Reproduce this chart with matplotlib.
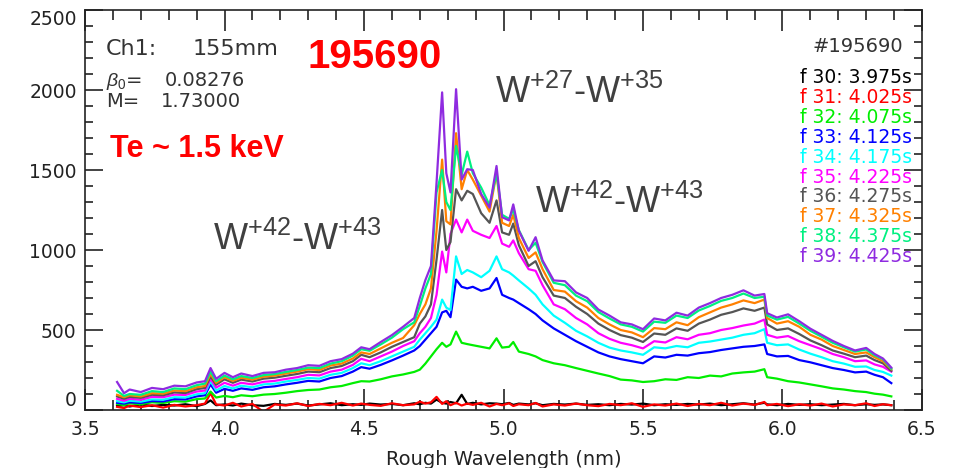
import matplotlib
matplotlib.use("Agg")
import matplotlib.pyplot as plt
from matplotlib.ticker import MultipleLocator

# ---------------- data ----------------
wavelength = [3.615, 3.64, 3.66, 3.70, 3.74, 3.78, 3.82, 3.86, 3.90, 3.93,
              3.95, 3.97, 4.00, 4.03, 4.06, 4.10, 4.14, 4.18, 4.22, 4.26,
              4.30, 4.34, 4.38, 4.42, 4.46, 4.49, 4.52, 4.56, 4.60, 4.64,
              4.68, 4.70, 4.72, 4.74, 4.76, 4.78, 4.795, 4.81, 4.83, 4.85,
              4.87, 4.89, 4.92, 4.95, 4.975, 4.995, 5.02, 5.035, 5.055, 5.09,
              5.115, 5.14, 5.18, 5.22, 5.26, 5.30, 5.34, 5.38, 5.42, 5.46,
              5.50, 5.54, 5.58, 5.62, 5.66, 5.70, 5.74, 5.78, 5.82, 5.86,
              5.90, 5.935, 5.945, 5.98, 6.02, 6.06, 6.10, 6.14, 6.18, 6.22,
              6.26, 6.30, 6.33, 6.36, 6.39]

f30 = [25, 30, 22, 35, 25, 32, 28, 36, 24, 38, 60, 30, 35, 28, 40, 30, 26, 38, 32, 40,
       28, 35, 42, 30, 36, 32, 40, 34, 38, 30, 42, 36, 45, 40, 65, 45, 40, 50, 42, 95,
       38, 45, 35, 42, 40, 36, 44, 32, 40, 35, 42, 30, 38, 34, 40, 32, 36, 30, 38, 34,
       40, 30, 36, 32, 38, 34, 40, 30, 36, 42, 34, 45, 35, 30, 38, 32, 36, 30, 34, 38,
       30, 36, 32, 35, 30]

f31 = [20, 12, 28, 18, 30, 15, 32, 22, 30, 40, 105, 35, 28, 45, 22, 38, -12, 35, 28, 42,
       25, 38, 30, 45, 28, 40, 32, 26, 42, 30, 35, 52, 40, 48, 82, 38, 55, 30, 45, 28,
       40, 32, 45, 22, 38, 30, 42, 25, 36, 30, 44, 22, 35, 28, 40, 30, 24, 38, 30, 42,
       20, 35, 28, 40, 25, 38, 30, 45, 28, 40, 32, 50, 30, 38, 24, 36, 28, 40, 22, 35,
       30, 42, 25, 36, 30]

f32 = [38, 30, 42, 36, 48, 44, 55, 52, 68, 72, 115, 78, 88, 80, 92, 86, 96, 100, 108, 118,
       125, 128, 142, 150, 168, 180, 178, 192, 210, 222, 238, 252, 290, 335, 380, 420, 395, 410, 490, 420,
       412, 405, 395, 385, 448, 390, 395, 425, 365, 350, 335, 312, 292, 280, 262, 245, 228, 212, 190, 185,
       175, 180, 192, 188, 205, 200, 215, 210, 228, 235, 240, 255, 205, 196, 180, 172, 160, 148, 135, 128,
       118, 112, 102, 96, 85]

f33 = [45, 40, 48, 44, 56, 54, 68, 66, 85, 92, 160, 108, 132, 120, 135, 126, 142, 148, 160, 170,
       182, 178, 200, 212, 240, 268, 258, 282, 310, 340, 372, 400, 440, 480, 520, 610, 620, 580, 815, 770,
       760, 770, 745, 760, 825, 720, 700, 690, 668, 630, 600, 560, 510, 470, 430, 395, 360, 335, 318, 305,
       292, 335, 328, 345, 340, 355, 362, 375, 385, 395, 400, 410, 350, 335, 338, 312, 298, 280, 262, 250,
       235, 240, 220, 205, 168]

f34 = [55, 48, 58, 52, 66, 64, 80, 78, 98, 105, 180, 122, 150, 135, 152, 142, 160, 165, 178, 188,
       200, 196, 220, 232, 262, 292, 280, 305, 335, 365, 395, 440, 480, 520, 565, 690, 640, 625, 960, 850,
       875, 860, 830, 870, 960, 880, 860, 840, 810, 760, 720, 660, 590, 545, 495, 460, 420, 390, 372, 360,
       345, 392, 385, 400, 392, 420, 428, 440, 452, 470, 480, 505, 420, 405, 410, 378, 352, 330, 305, 290,
       270, 272, 250, 238, 215]

f35 = [70, 58, 70, 64, 82, 80, 96, 94, 115, 122, 195, 140, 170, 152, 170, 160, 176, 182, 194, 205,
       220, 216, 240, 252, 282, 320, 305, 335, 365, 400, 430, 480, 520, 575, 720, 990, 860, 1100, 1190, 1110,
       1190, 1120, 1095, 1075, 1150, 1040, 1020, 1060, 980, 880, 870, 780, 660, 630, 575, 535, 480, 445, 420, 405,
       385, 430, 422, 455, 442, 470, 480, 500, 512, 528, 540, 565, 470, 452, 462, 430, 405, 380, 350, 330,
       305, 310, 285, 270, 240]

f36 = [85, 70, 82, 76, 95, 92, 110, 106, 130, 138, 210, 158, 192, 170, 190, 178, 196, 202, 214, 225,
       240, 236, 262, 275, 305, 345, 330, 360, 395, 425, 455, 540, 585, 660, 940, 1250, 1000, 1050, 1380, 1310,
       1370, 1350, 1230, 1170, 1310, 1110, 1095, 1165, 1030, 900, 930, 830, 715, 700, 645, 600, 540, 500, 468, 452,
       425, 478, 470, 510, 495, 540, 565, 595, 612, 635, 620, 640, 535, 500, 510, 475, 435, 405, 372, 352,
       330, 340, 312, 292, 245]

f37 = [95, 80, 92, 85, 105, 102, 122, 118, 142, 150, 225, 170, 205, 182, 202, 190, 208, 215, 228, 240,
       255, 250, 278, 290, 322, 360, 350, 385, 420, 450, 530, 600, 660, 760, 1120, 1565, 1180, 1160, 1730, 1380,
       1500, 1440, 1340, 1240, 1480, 1170, 1150, 1220, 1075, 950, 985, 880, 750, 740, 680, 640, 575, 535, 500, 485,
       455, 512, 505, 548, 530, 580, 610, 640, 660, 685, 668, 690, 575, 540, 555, 520, 470, 440, 400, 375,
       350, 360, 330, 305, 255]

f38 = [120, 88, 100, 95, 118, 112, 135, 130, 155, 165, 240, 180, 215, 192, 212, 200, 218, 225, 238, 250,
       265, 262, 290, 305, 340, 380, 370, 410, 452, 505, 548, 650, 760, 850, 1360, 1500, 1300, 1250, 1650, 1470,
       1615, 1480, 1390, 1280, 1480, 1220, 1195, 1250, 1125, 1000, 1045, 925, 795, 780, 715, 680, 612, 572, 535, 520,
       490, 552, 545, 590, 575, 622, 650, 682, 700, 728, 700, 708, 590, 565, 582, 540, 495, 458, 420, 392,
       365, 378, 342, 318, 258]

f39 = [175, 105, 128, 112, 138, 130, 152, 148, 172, 180, 262, 195, 232, 205, 228, 212, 232, 236, 252, 262,
       280, 276, 305, 318, 352, 392, 380, 425, 468, 520, 575, 700, 812, 900, 1420, 1985, 1480, 1360, 2005, 1440,
       1505, 1500, 1350, 1265, 1525, 1205, 1185, 1285, 1120, 995, 1080, 935, 810, 805, 735, 700, 628, 590, 548, 535,
       505, 572, 560, 608, 590, 640, 668, 700, 720, 748, 715, 725, 605, 578, 598, 555, 508, 470, 432, 400,
       372, 388, 350, 322, 265]

frame_labels = ["f 30: 3.975s", "f 31: 4.025s", "f 32: 4.075s", "f 33: 4.125s",
                "f 34: 4.175s", "f 35: 4.225s", "f 36: 4.275s", "f 37: 4.325s",
                "f 38: 4.375s", "f 39: 4.425s"]
series = [f30, f31, f32, f33, f34, f35, f36, f37, f38, f39]
colors = ["#000000", "#ff0000", "#00ee00", "#0000ff", "#00ffff",
          "#ff00ff", "#555555", "#ff8000", "#00f080", "#8f2be0"]

x_ticks = [3.5, 4.0, 4.5, 5.0, 5.5, 6.0, 6.5]
x_tick_labels = ["3.5", "4.0", "4.5", "5.0", "5.5", "6.0", "6.5"]
y_ticks = [0, 500, 1000, 1500, 2000, 2500]
y_tick_labels = ["0", "500", "1000", "1500", "2000", "2500"]

# ---------------- figure ----------------
plt.rcParams["mathtext.fontset"] = "custom"
plt.rcParams["mathtext.rm"] = "Liberation Sans"
plt.rcParams["mathtext.it"] = "Liberation Sans:italic"
plt.rcParams["mathtext.bf"] = "Liberation Sans:bold"

W, H = 956, 468
fig = plt.figure(figsize=(W / 100, H / 100), dpi=100)
ax = fig.add_axes([85 / W, 1 - 410 / H, (922 - 85) / W, 400 / H])

for y, c in zip(series, colors):
    ax.plot(wavelength, y, color=c, lw=1.6, solid_joinstyle="round")

ax.set_xlim(3.5, 6.5)
ax.set_ylim(0, 2500)
ax.set_xticks(x_ticks, x_tick_labels)
ax.set_yticks(y_ticks, y_tick_labels)
ax.xaxis.set_minor_locator(MultipleLocator(0.1))
ax.yaxis.set_minor_locator(MultipleLocator(100))
ax.tick_params(which="both", direction="in", top=True, right=True,
               colors="#222222", width=1.2, labelsize=13.5)
ax.tick_params(axis="x", which="major", length=15, pad=7)
ax.tick_params(axis="x", which="minor", length=7)
ax.tick_params(axis="y", which="major", length=13, pad=6)
ax.tick_params(axis="y", which="minor", length=6)
for sp in ax.spines.values():
    sp.set_linewidth(1.2)
    sp.set_color("#222222")
for lbl in ax.get_yticklabels():
    if lbl.get_text() == "2500":
        lbl.set_va("top")
    elif lbl.get_text() == "0":
        lbl.set_va("bottom")
ax.set_xlabel("Rough Wavelength (nm)", fontsize=14, labelpad=8, color="#222222")


def ftext(x, y, s, **kw):
    kw.setdefault("va", "baseline")
    return fig.text(x / W, 1 - y / H, s, **kw)


dark = "#333333"
ftext(106, 55, "Ch1:", fontsize=16, color=dark)
ftext(193, 55, "155mm", fontsize=16, color=dark)
ftext(106, 86, r"$\beta_0$=", fontsize=14, color=dark)
ftext(165, 86, "0.08276", fontsize=14, color=dark)
ftext(106, 107, "M=", fontsize=14, color=dark)
ftext(161, 107, "1.73000", fontsize=14, color=dark)
ftext(903, 52, "#195690", fontsize=14, color=dark, ha="right")

ftext(307, 68, "195690", fontsize=29, fontweight="bold", color="#ff0000",
      family="Liberation Sans")
ftext(110, 157, "Te ~ 1.5 keV", fontsize=22, fontweight="bold", color="#ff0000",
      family="Liberation Sans")

wcol = "#404040"
ftext(495, 103, r"W$^{\mathrm{+27}}$-W$^{\mathrm{+35}}$", fontsize=26, color=wcol,
      family="Liberation Sans")
ftext(535, 213, r"W$^{\mathrm{+42}}$-W$^{\mathrm{+43}}$", fontsize=26, color=wcol,
      family="Liberation Sans")
ftext(213, 250, r"W$^{\mathrm{+42}}$-W$^{\mathrm{+43}}$", fontsize=26, color=wcol,
      family="Liberation Sans")

for i, (lab, c) in enumerate(zip(frame_labels, colors)):
    ftext(912, 83.3 + i * 19.85, lab, fontsize=13.5, color=c, ha="right")

fig.savefig("out.png", dpi=100)
